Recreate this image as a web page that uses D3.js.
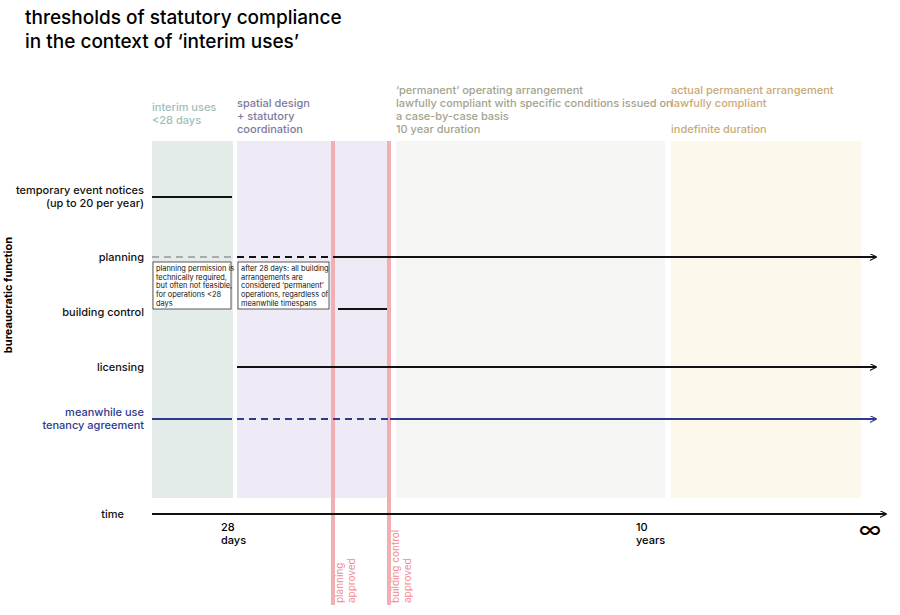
<!DOCTYPE html>
<html><head><meta charset="utf-8">
<script src="https://cdn.jsdelivr.net/npm/d3@7"></script>
<style>body{margin:0;background:#fff;font-family:Inter,"Noto Sans",sans-serif;}</style>
</head><body><div class="container"></div>
<script>
// schematic timeline units (0 = start of interim use)
const phases = [
  {name:'interim', start:0, end:81, fill:'#e4ecea', color:'#9fbdbc', label:['interim uses','<28 days']},
  {name:'design', start:85, end:238, fill:'#eeebf6', color:'#7e7a9c', label:['spatial design','+ statutory','coordination']},
  {name:'permanent', start:244, end:513, fill:'#f5f5f3', color:'#a3a48e', label:["‘permanent’ operating arrangement",'lawfully compliant with specific conditions issued on','a case-by-case basis','10 year duration']},
  {name:'actual', start:519, end:709, fill:'#fdf8ec', color:'#c9aa74', label:['actual permanent arrangement','lawfully compliant','','indefinite duration']}
];
const rows = ['temporary event notices','planning','building control','licensing','meanwhile use','time'];
const rowLabels = [['temporary event notices','(up to 20 per year)'],['planning'],['building control'],['licensing'],['meanwhile use','tenancy agreement'],['time']];
const segments = [
  {row:'temporary event notices', from:0, to:80, style:'solid', color:'#111'},
  {row:'planning', from:0, to:80, style:'dash', color:'#aaa'},
  {row:'planning', from:85, to:181, style:'dash', color:'#111'},
  {row:'planning', from:181, to:724, style:'arrow', color:'#111'},
  {row:'building control', from:186, to:235, style:'solid', color:'#111'},
  {row:'licensing', from:85, to:724, style:'arrow', color:'#111'},
  {row:'meanwhile use', from:0, to:80, style:'solid', color:'#2e3a8c'},
  {row:'meanwhile use', from:85, to:238, style:'dash', color:'#2e3a8c'},
  {row:'meanwhile use', from:238, to:724, style:'arrow', color:'#2e3a8c'},
  {row:'time', from:0, to:734, style:'arrow', color:'#111'}
];
const milestones = [{at:181, label:['planning','approved']},{at:237, label:['building control','approved']}];
const timeTicks = [{at:81, label:['28','days']},{at:496, label:['10','years']}];
const notes = [
  {from:0, to:80, lines:['planning permission is','technically required,','but often not feasible,','for operations <28','days']},
  {from:85, to:178, lines:['after 28 days: all building','arrangements are',"considered ‘permanent’",'operations, regardless of','meanwhile timespans']}
];

const W=900,H=615;
const svg=d3.select('.container').append('svg').attr('width',W).attr('height',H);
const x=d3.scaleLinear().domain([0,710]).range([152,862]);
const yPos={'temporary event notices':197,'planning':257,'building control':309,'licensing':367,'meanwhile use':419,'time':514};
const Y=r=>yPos[r];
const lh=13;

svg.append('defs').selectAll('marker').data(['#111','#2e3a8c']).join('marker')
  .attr('id',(d,i)=>'arr'+i).attr('viewBox','0 0 10 10').attr('refX',9).attr('refY',5)
  .attr('markerWidth',7).attr('markerHeight',7).attr('markerUnits','userSpaceOnUse').attr('orient','auto')
  .append('path').attr('d','M0,0L10,5L0,10').attr('fill','none').attr('stroke',d=>d).attr('stroke-width',1.5);

// title
svg.append('text').attr('x',25).attr('y',24).attr('font-size',19).attr('font-weight',500).text('thresholds of statutory compliance');
svg.append('text').attr('x',25).attr('y',48).attr('font-size',19).attr('font-weight',500).text('in the context of ‘interim uses’');

// phase columns
svg.selectAll('rect.phase').data(phases).join('rect').attr('class','phase')
  .attr('x',d=>x(d.start)).attr('width',d=>x(d.end)-x(d.start)).attr('y',141).attr('height',357).attr('fill',d=>d.fill);
// phase labels: bottom line sits at y=137
phases.forEach(p=>{
  const n=p.label.length;
  const top=p.name==='interim'?111:137-(n-1)*lh-4;
  const t=svg.append('text').attr('font-size',11).attr('font-weight',500).attr('fill',p.color);
  t.selectAll('tspan').data(p.label).join('tspan').attr('x',x(p.start)).attr('y',(d,i)=>top+i*lh).text(d=>d||' ');
});

// milestone lines
milestones.forEach(m=>{
  svg.append('line').attr('x1',x(m.at)).attr('x2',x(m.at)).attr('y1',141).attr('y2',605).attr('stroke','#f2aeb3').attr('stroke-width',4);
  const t=svg.append('text').attr('transform',`translate(${x(m.at)+10},603) rotate(-90)`).attr('font-size',10).attr('fill','#f08b93');
  t.selectAll('tspan').data(m.label).join('tspan').attr('x',0).attr('dy',(d,i)=>i?12:0).text(d=>d);
});

// row labels
rowLabels.forEach((l,i)=>{
  const r=rows[i];
  const col=r==='meanwhile use'?'#2e3a8c':'#111';
  const ax=r==='time'?124:144;
  let y0=Y(r)+4;
  if(r==='temporary event notices') y0=Y(r)-3;
  if(r==='meanwhile use') y0=Y(r)-3;
  if(r==='building control') y0=Y(r)+7;
  const t=svg.append('text').attr('text-anchor','end').attr('font-size',11).attr('font-weight',500).attr('fill',col);
  t.selectAll('tspan').data(l).join('tspan').attr('x',ax).attr('y',(d,j)=>y0+j*lh).text(d=>d);
});
svg.append('text').attr('transform','translate(12,295) rotate(-90)').attr('text-anchor','middle').attr('font-size',11).attr('font-weight',700).text('bureaucratic function');

// segments
segments.forEach(s=>{
  svg.append('line').attr('x1',x(s.from)).attr('x2',x(s.to)).attr('y1',Y(s.row)).attr('y2',Y(s.row))
    .attr('stroke',s.color).attr('stroke-width',2)
    .attr('stroke-dasharray',s.style==='dash'?'7,5':null)
    .attr('marker-end',s.style==='arrow'?`url(#arr${s.color==='#111'?0:1})`:null);
});

// time ticks
timeTicks.forEach(t=>{
  const tx=svg.append('text').attr('font-size',11).attr('font-weight',500);
  tx.selectAll('tspan').data(t.label).join('tspan').attr('x',x(t.at)-12).attr('y',(d,i)=>531+i*lh).text(d=>d);
});
svg.append('text').attr('x',870).attr('y',538).attr('text-anchor','middle').attr('font-size',24).text('∞');

// notes
notes.forEach(n=>{
  const g=svg.append('g');
  g.append('rect').attr('x',x(n.from)+1).attr('y',262).attr('width',x(n.to)-x(n.from)-2).attr('height',47).attr('fill','#fff').attr('stroke','#333').attr('stroke-width',0.8);
  const t=g.append('text').attr('font-size',7.4).attr('fill','#111');
  t.selectAll('tspan').data(n.lines).join('tspan').attr('x',x(n.from)+4).attr('y',(d,i)=>271+i*8.7).text(d=>d);
});
</script></body></html>
